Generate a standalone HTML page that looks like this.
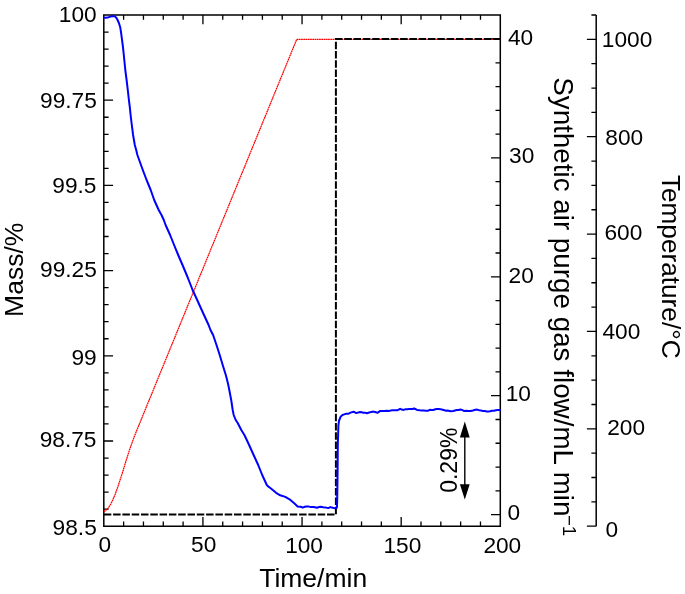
<!DOCTYPE html>
<html><head><meta charset="utf-8"><style>
html,body{margin:0;padding:0;background:#fff;}
svg{display:block;will-change:transform;font-family:"Liberation Sans",sans-serif;}
</style></head><body>
<svg width="685" height="594" viewBox="0 0 685 594">
<rect width="685" height="594" fill="#fff"/>
<path d="M103.8,15.0H500.3V526.2H103.8Z" fill="none" stroke="#000" stroke-width="1.5"/>
<path d="M123.62,526.2v-4.8M123.62,15.0v4.8M143.45,526.2v-4.8M143.45,15.0v4.8M163.28,526.2v-4.8M163.28,15.0v4.8M183.10,526.2v-4.8M183.10,15.0v4.8M202.93,526.2v-9.3M202.93,15.0v9.3M222.75,526.2v-4.8M222.75,15.0v4.8M242.57,526.2v-4.8M242.57,15.0v4.8M262.40,526.2v-4.8M262.40,15.0v4.8M282.23,526.2v-4.8M282.23,15.0v4.8M302.05,526.2v-9.3M302.05,15.0v9.3M321.88,526.2v-4.8M321.88,15.0v4.8M341.70,526.2v-4.8M341.70,15.0v4.8M361.53,526.2v-4.8M361.53,15.0v4.8M381.35,526.2v-4.8M381.35,15.0v4.8M401.18,526.2v-9.3M401.18,15.0v9.3M421.00,526.2v-4.8M421.00,15.0v4.8M440.82,526.2v-4.8M440.82,15.0v4.8M460.65,526.2v-4.8M460.65,15.0v4.8M480.48,526.2v-4.8M480.48,15.0v4.8M103.8,32.04h4.8M103.8,49.08h4.8M103.8,66.12h4.8M103.8,83.16h4.8M103.8,100.20h9.3M103.8,117.24h4.8M103.8,134.28h4.8M103.8,151.32h4.8M103.8,168.36h4.8M103.8,185.40h9.3M103.8,202.44h4.8M103.8,219.48h4.8M103.8,236.52h4.8M103.8,253.56h4.8M103.8,270.60h9.3M103.8,287.64h4.8M103.8,304.68h4.8M103.8,321.72h4.8M103.8,338.76h4.8M103.8,355.80h9.3M103.8,372.84h4.8M103.8,389.88h4.8M103.8,406.92h4.8M103.8,423.96h4.8M103.8,441.00h9.3M103.8,458.04h4.8M103.8,475.08h4.8M103.8,492.12h4.8M103.8,509.16h4.8M500.3,514.60h-9.3M500.3,490.82h-4.8M500.3,467.04h-4.8M500.3,443.26h-4.8M500.3,419.48h-4.8M500.3,395.70h-9.3M500.3,371.92h-4.8M500.3,348.14h-4.8M500.3,324.36h-4.8M500.3,300.58h-4.8M500.3,276.80h-9.3M500.3,253.02h-4.8M500.3,229.24h-4.8M500.3,205.46h-4.8M500.3,181.68h-4.8M500.3,157.90h-9.3M500.3,134.12h-4.8M500.3,110.34h-4.8M500.3,86.56h-4.8M500.3,62.78h-4.8M500.3,39.00h-9.3M596.2,526.20h-9.3M596.2,501.86h-4.8M596.2,477.51h-4.8M596.2,453.17h-4.8M596.2,428.83h-9.3M596.2,404.49h-4.8M596.2,380.14h-4.8M596.2,355.80h-4.8M596.2,331.46h-9.3M596.2,307.11h-4.8M596.2,282.77h-4.8M596.2,258.43h-4.8M596.2,234.09h-9.3M596.2,209.74h-4.8M596.2,185.40h-4.8M596.2,161.06h-4.8M596.2,136.71h-9.3M596.2,112.37h-4.8M596.2,88.03h-4.8M596.2,63.69h-4.8M596.2,39.34h-9.3M596.2,15.00h-4.8" fill="none" stroke="#000" stroke-width="1.3"/>
<path d="M596.2,15.0V526.2" fill="none" stroke="#000" stroke-width="1.5"/>
<polyline points="103.90,511.60 105.80,510.40 107.80,508.60 110.10,505.30 112.60,500.40 115.20,494.20 117.70,487.20 120.20,479.60 122.70,471.80 125.90,461.20 130.30,447.60 134.40,436.20 296.60,39.60 297.60,39.40 500.30,39.40" fill="none" stroke="#ff0000" stroke-width="1.25" stroke-dasharray="1.8 0.45" stroke-linejoin="round"/>
<path d="M103.8,514.6H335.9V39.0H500.3" fill="none" stroke="#000" stroke-width="2" stroke-dasharray="7.5 1.8"/>
<polyline points="104.00,17.80 105.50,17.80 107.60,17.60 109.50,16.90 111.70,16.30 114.00,16.20 115.20,16.60 116.20,17.60 117.60,20.00 118.90,23.00 120.20,27.20 121.00,32.20 121.80,38.10 122.70,44.90 123.40,51.00 124.30,60.00 125.30,70.00 126.60,80.00 127.80,90.00 128.90,100.00 129.80,107.00 130.60,115.00 131.80,125.00 133.10,135.00 134.80,145.00 136.20,150.00 137.40,155.00 139.20,160.00 141.00,165.00 142.80,170.00 146.60,180.00 150.70,190.00 154.20,200.00 158.70,210.00 161.50,215.00 163.80,220.00 165.60,225.00 170.10,235.00 174.10,245.00 178.20,255.00 182.50,265.00 184.60,270.00 186.70,275.00 188.70,280.00 192.60,290.00 197.20,300.00 201.70,310.00 206.30,320.00 208.60,325.00 210.50,330.00 213.10,335.00 216.50,345.00 219.70,355.00 222.70,365.00 225.80,375.00 227.10,380.00 228.30,385.00 229.30,390.00 231.20,400.00 232.70,410.00 233.70,415.00 235.70,420.00 237.70,423.00 241.30,430.00 244.40,435.00 246.80,440.00 249.10,445.00 253.60,455.00 258.20,465.00 262.20,475.00 266.80,485.00 268.80,486.90 270.00,487.80 273.10,490.20 276.10,492.80 280.20,495.30 285.30,496.90 290.40,499.90 294.50,503.50 297.60,506.40 300.70,506.80 302.70,507.60 304.70,506.80 306.50,506.47 308.30,506.40 310.90,507.10 313.90,507.10 317.00,507.80 319.05,507.03 321.10,506.80 323.15,507.21 325.20,507.40 328.20,508.10 330.30,507.10 332.80,507.80 335.40,508.40 336.90,507.60 337.20,500.00 337.50,480.00 337.70,460.00 337.80,445.00 338.40,425.20 339.10,420.50 340.80,416.40 342.50,415.00 344.20,414.40 346.20,413.78 348.20,413.80 350.50,412.60 353.60,411.70 356.30,413.10 358.10,412.58 359.90,412.00 361.65,412.30 363.40,412.80 365.15,412.66 366.90,413.20 369.20,412.56 371.50,411.90 373.25,411.60 375.00,412.00 377.40,412.80 380.30,410.90 382.35,410.95 384.40,411.10 386.70,410.77 389.00,411.10 390.80,410.39 392.60,410.30 394.90,410.24 397.20,410.30 400.10,408.80 401.85,409.60 403.60,409.90 405.65,409.31 407.70,409.30 409.32,408.89 410.95,409.00 412.57,409.04 414.20,408.50 417.10,409.90 420.00,410.30 421.93,410.49 423.87,410.49 425.80,410.70 427.77,410.80 429.73,409.82 431.70,409.90 433.45,409.95 435.20,409.29 436.95,408.95 438.70,409.00 440.63,409.14 442.57,409.72 444.50,410.30 446.12,410.79 447.75,410.56 449.38,411.11 451.00,411.30 453.00,411.01 455.00,410.50 456.77,410.10 458.53,409.94 460.30,409.60 462.35,410.02 464.40,411.10 466.33,410.77 468.27,410.88 470.20,411.10 471.95,410.86 473.70,410.29 475.45,409.83 477.20,409.60 479.17,410.17 481.13,410.56 483.10,411.10 484.85,411.00 486.60,411.42 488.35,411.40 490.10,411.30 492.03,410.77 493.97,410.69 495.90,410.30 497.95,410.12 500.00,409.90" fill="none" stroke="#0000ff" stroke-width="2" stroke-linejoin="round" stroke-linecap="round"/>
<g font-size="22.7"><text x="58.86" y="21.66">100</text><text x="40.04" y="107.74">99.75</text><text x="52.30" y="193.40">99.5</text><text x="40.04" y="277.30">99.25</text><text x="71.48" y="364.62">99</text><text x="39.66" y="446.56">98.75</text><text x="52.60" y="535.42">98.5</text><text x="98.38" y="551.60">0</text><text x="191.04" y="552.14">50</text><text x="285.14" y="552.50">100</text><text x="383.42" y="553.40">150</text><text x="483.38" y="552.96">200</text><text x="507.44" y="520.24">0</text><text x="505.76" y="401.24">10</text><text x="508.60" y="283.20">20</text><text x="509.04" y="163.32">30</text><text x="507.94" y="45.24">40</text><text x="605.42" y="537.26">0</text><text x="607.26" y="435.12">200</text><text x="602.44" y="338.54">400</text><text x="604.44" y="240.12">600</text><text x="605.34" y="144.52">800</text><text x="601.86" y="46.66">1000</text></g>
<g font-size="26.5">
<text x="313.2" y="587" text-anchor="middle">Time/min</text>
<text transform="translate(23,269.8) rotate(-90)" text-anchor="middle">Mass/%</text>
<text transform="translate(553.5,77.2) rotate(90)" font-size="27.8">Synthetic air purge gas flow/mL min<tspan dx="-1.5" dy="-9.5" font-size="18.5">−1</tspan></text>
<text transform="translate(662.3,174.9) rotate(90)" font-size="26.2">Temperature/°C</text>
</g>
<text transform="translate(457,460.2) rotate(-90)" text-anchor="middle" font-size="23">0.29%</text>
<path d="M464.8,436V486" stroke="#000" stroke-width="1.4"/>
<path d="M464.8,421.4L469.7,437.5H459.9Z M464.8,499.4L469.7,484.2H459.9Z" fill="#000"/>
</svg>
</body></html>
